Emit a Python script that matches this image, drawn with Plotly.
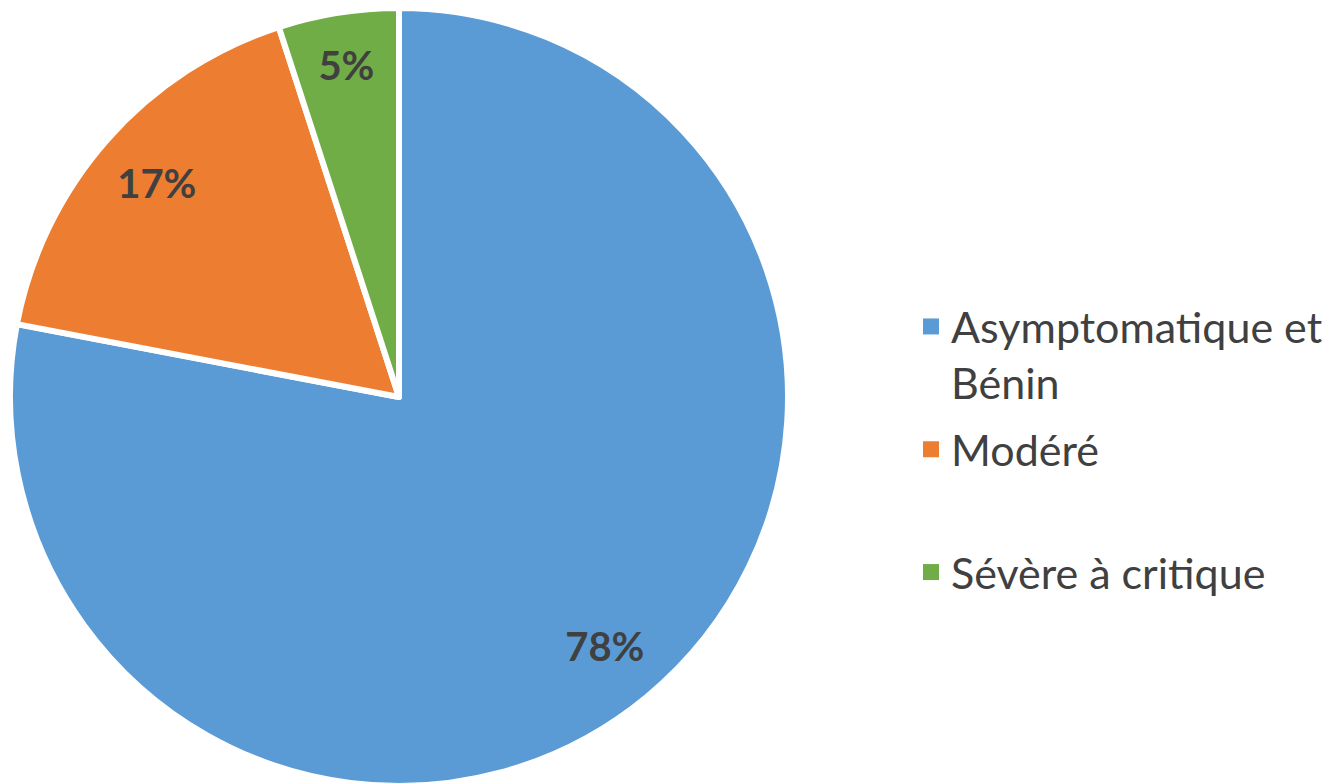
import plotly.graph_objects as go

categories = ["Asymptomatique et Bénin", "Modéré", "Sévère à critique"]
values = [78, 17, 5]
colors = ["#5B9BD5", "#ED7D31", "#70AD47"]
value_labels = ["78%", "17%", "5%"]
legend_names = ["Asymptomatique et<br>Bénin", "Modéré<br> ", "Sévère à critique"]

W, H = 1341, 784
ml, mr, mt, mb = 2, 0, 0, 0
pw = W - ml - mr
ph = H - mt - mb
D = 778  # pie diameter in px
dom = dict(x=[0, D / pw], y=[1 - D / ph, 1])

fig = go.Figure()
# coloured slices
fig.add_trace(go.Pie(
    labels=categories, values=values,
    textinfo="none", sort=False, direction="clockwise", rotation=0,
    marker=dict(colors=colors, line=dict(color="white", width=6)),
    domain=dom, showlegend=False, hoverinfo="label+percent",
))
# percentage labels (placed in the outer ring, like the original)
fig.add_trace(go.Pie(
    labels=categories, values=values, text=value_labels,
    textinfo="text", textposition="inside", insidetextorientation="horizontal",
    sort=False, direction="clockwise", rotation=0, hole=0.66,
    marker=dict(colors=["rgba(0,0,0,0)"] * 3, line=dict(width=0)),
    textfont=dict(family="Lato", size=40, color="#404040", weight="bold"),
    domain=dom, showlegend=False, hoverinfo="skip",
))

for i, (name, c) in enumerate(zip(legend_names, colors)):
    fig.add_trace(go.Scatter(
        x=[None], y=[None], mode="markers", name=name, legendgroup=f"g{i}",
        marker=dict(symbol="square", size=16, color=c),
    ))

fig.update_layout(
    width=W, height=H,
    margin=dict(l=ml, r=mr, t=mt, b=mb),
    paper_bgcolor="white", plot_bgcolor="white",
    xaxis=dict(visible=False), yaxis=dict(visible=False),
    showlegend=True,
    legend=dict(
        x=(903 - ml) / pw, xanchor="left",
        y=1 - (284 - mt) / ph, yanchor="top",
        font=dict(family="Lato", size=43, color="#404040"),
        valign="top", itemwidth=30, tracegroupgap=8,
        bgcolor="rgba(0,0,0,0)",
    ),
)

fig.write_html("out.html")
